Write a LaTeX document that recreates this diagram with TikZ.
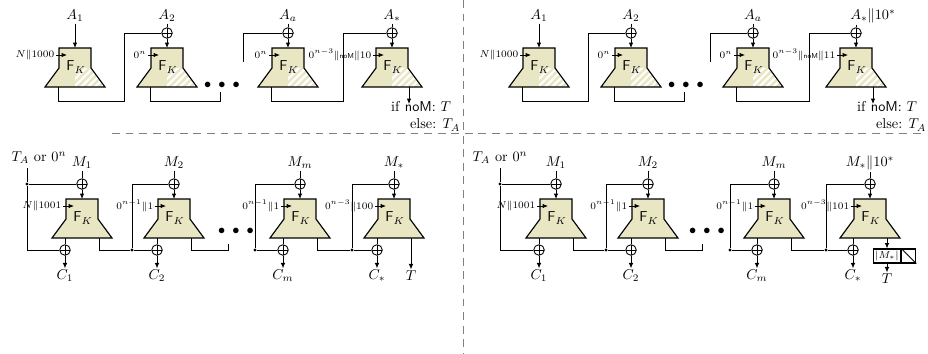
\documentclass[tikz,border=0pt]{standalone}
\usepackage{amsmath}
\usetikzlibrary{arrows.meta, positioning}

\definecolor{fkyellow}{RGB}{233,230,196}

\tikzset{
  fkfill/.style={fill=fkyellow},
  fkedge/.style={draw=black, line width=0.8pt},
  hatchline/.style={white, line width=1.5pt}
}

% white stripes in the lower right quarter of a block
\newcommand{\fkhatch}{%
  \begin{scope}
    \clip (0,20) -- (16,20) -- (30,39) -- (0,39) -- cycle;
    \foreach \h in {-24,-17,...,32} \draw[hatchline] (\h,41) -- ++(24,-24);
  \end{scope}}

% block F_K: [extra] {name} {x of centre} {y of top}
\newcommand{\fkbox}[4][]{%
  \begin{scope}[shift={(#3,#4)}]
    \fill[fkfill] (-16,0) -- (16,0) -- (16,20) -- (30,39) -- (-30,39) -- (-16,20) -- cycle;
    #1
    \draw[fkedge] (-16,0) -- (16,0) -- (16,20) -- (30,39) -- (-30,39) -- (-16,20) -- cycle;
    \node[inner sep=0pt] (#2) at (1,19) {$\mathsf{F}_K$};
    \coordinate (#2-n) at (0,0);
    \coordinate (#2-w) at (-8,7);
    \coordinate (#2-sl) at (-17,39);
    \coordinate (#2-sr) at (17,39);
  \end{scope}}

\begin{document}
\begin{tikzpicture}[x=0.7pt, y=-0.7pt,
  wire/.style={line width=0.6pt},
  arrow/.style={wire, -{Latex[length=3.8pt, width=3.2pt]}},
  xor/.style={circle, draw, line width=0.6pt, minimum size=7.4pt, inner sep=0pt,
    path picture={\draw[line width=0.6pt] (path picture bounding box.north) -- (path picture bounding box.south)
      (path picture bounding box.west) -- (path picture bounding box.east);}},
  io/.style={inner sep=1pt},
  tag/.style={font=\scriptsize, inner sep=1pt, anchor=east},
  dot/.style={circle, fill, inner sep=0pt, minimum size=2.2pt},
  dots/.style={inner sep=0pt},
  sep/.style={gray, line width=0.6pt, dash pattern=on 5.5pt off 4pt}
]
\useasboundingbox (0,0) rectangle (928,353);
\clip (0,0) rectangle (928,353);

% top left
\node[io] (tl-a1) at (75,16) {$A_1$};
\fkbox[\fkhatch]{tl-f1}{75}{48}
\node[tag] (tl-n1) at (56,55) {$N\|1000$};
\draw[arrow] (tl-a1) -- (tl-f1-n);
\draw[arrow] (tl-n1) -- (tl-f1-w);
\coordinate (tl-k1) at (124,101);

\node[xor] (tl-x2) at (167,33) {};
\node[io] (tl-a2) at (167,16) {$A_2$};
\fkbox[\fkhatch]{tl-f2}{167}{48}
\node[tag] (tl-n2) at (148,55) {$0^n$};
\draw[wire] (tl-f1-sl) |- (tl-k1) |- (tl-x2);
\draw[wire] (tl-a2) -- (tl-x2);
\draw[arrow] (tl-x2) -- (tl-f2-n);
\draw[arrow] (tl-n2) -- (tl-f2-w);
\coordinate (tl-k2) at (220,101);
\coordinate (tl-e2) at (220,92);
\draw[wire] (tl-f2-sl) |- (tl-k2) -- (tl-e2);
\node[dots] (tl-dots) at (222,85) {$\bullet\;\bullet\;\bullet$};

\coordinate (tl-e3) at (243,62);
\node[xor] (tl-x3) at (288,33) {};
\node[io] (tl-a3) at (288,16) {$A_a$};
\fkbox[\fkhatch]{tl-f3}{288}{48}
\node[tag] (tl-n3) at (269,55) {$0^n$};
\draw[wire] (tl-e3) |- (tl-x3);
\draw[wire] (tl-a3) -- (tl-x3);
\draw[arrow] (tl-x3) -- (tl-f3-n);
\draw[arrow] (tl-n3) -- (tl-f3-w);
\coordinate (tl-k3) at (343,101);

\node[xor] (tl-x4) at (392,33) {};
\node[io] (tl-a4) at (392,16) {$A_*$};
\fkbox[\fkhatch]{tl-f4}{392}{48}
\node[tag] (tl-n4) at (373,55) {$0^{n-3}\|\textsf{\tiny noM}\|10$};
\draw[wire] (tl-f3-sl) |- (tl-k3) |- (tl-x4);
\draw[wire] (tl-a4) -- (tl-x4);
\draw[arrow] (tl-x4) -- (tl-f4-n);
\draw[arrow] (tl-n4) -- (tl-f4-w);
\coordinate (tl-o4) at (409,104);
\draw[arrow] (tl-f4-sr) -- (tl-o4);
\node[io, anchor=north east, align=right] (tl-out) at (462,100) {if \textsf{noM}: $T\phantom{{}_A}$\\else: $T_A$};

% top right
\node[io] (tr-a1) at (539,16) {$A_1$};
\fkbox[\fkhatch]{tr-f1}{539}{48}
\node[tag] (tr-n1) at (520,55) {$N\|1000$};
\draw[arrow] (tr-a1) -- (tr-f1-n);
\draw[arrow] (tr-n1) -- (tr-f1-w);
\coordinate (tr-k1) at (588,101);

\node[xor] (tr-x2) at (631,33) {};
\node[io] (tr-a2) at (631,16) {$A_2$};
\fkbox[\fkhatch]{tr-f2}{631}{48}
\node[tag] (tr-n2) at (612,55) {$0^n$};
\draw[wire] (tr-f1-sl) |- (tr-k1) |- (tr-x2);
\draw[wire] (tr-a2) -- (tr-x2);
\draw[arrow] (tr-x2) -- (tr-f2-n);
\draw[arrow] (tr-n2) -- (tr-f2-w);
\coordinate (tr-k2) at (684,101);
\coordinate (tr-e2) at (684,92);
\draw[wire] (tr-f2-sl) |- (tr-k2) -- (tr-e2);
\node[dots] (tr-dots) at (686,85) {$\bullet\;\bullet\;\bullet$};

\coordinate (tr-e3) at (710,62);
\node[xor] (tr-x3) at (753,33) {};
\node[io] (tr-a3) at (753,16) {$A_a$};
\fkbox[\fkhatch]{tr-f3}{753}{48}
\node[tag] (tr-n3) at (734,55) {$0^n$};
\draw[wire] (tr-e3) |- (tr-x3);
\draw[wire] (tr-a3) -- (tr-x3);
\draw[arrow] (tr-x3) -- (tr-f3-n);
\draw[arrow] (tr-n3) -- (tr-f3-w);
\coordinate (tr-k3) at (809,101);

\node[xor] (tr-x4) at (856,33) {};
\node[io] (tr-a4) at (873,16) {$A_*\|10^*$};
\fkbox[\fkhatch]{tr-f4}{856}{48}
\node[tag] (tr-n4) at (837,55) {$0^{n-3}\|\textsf{\tiny noM}\|11$};
\draw[wire] (tr-f3-sl) |- (tr-k3) |- (tr-x4);
\draw[wire] (tr-x4 |- tr-a4.south) -- (tr-x4);
\draw[arrow] (tr-x4) -- (tr-f4-n);
\draw[arrow] (tr-n4) -- (tr-f4-w);
\coordinate (tr-o4) at (873,104);
\draw[arrow] (tr-f4-sr) -- (tr-o4);
\node[io, anchor=north east, align=right] (tr-out) at (928,100) {if \textsf{noM}: $T\phantom{{}_A}$\\else: $T_A$};

% bottom left
\node[io] (bl-t) at (39,158) {$T_A$ or $0^n$};
\coordinate (bl-v) at (27,168);
\node[dot] (bl-d1) at (27,184) {};
\node[xor] (bl-x1) at (82,184) {};
\node[io] (bl-m1) at (82,163) {$M_1$};
\fkbox{bl-f1}{82}{199}
\node[tag] (bl-n1) at (63,206) {$N\|1001$};
\node[xor] (bl-y1) at (65,250) {};
\node[io] (bl-c1) at (65,276) {$C_1$};
\draw[wire] (bl-v) -- (bl-d1) -- (bl-x1);
\draw[wire] (bl-d1) |- (bl-y1);
\draw[wire] (bl-m1) -- (bl-x1);
\draw[arrow] (bl-x1) -- (bl-f1-n);
\draw[arrow] (bl-n1) -- (bl-f1-w);
\draw[wire] (bl-f1-sl) -- (bl-y1);
\draw[arrow] (bl-y1) -- (bl-c1);

\node[dot] (bl-j1) at (132,250) {};
\node[xor] (bl-x2) at (174,184) {};
\node[io] (bl-m2) at (174,163) {$M_2$};
\fkbox{bl-f2}{174}{199}
\node[tag] (bl-n2) at (155,206) {$0^{n-1}\|1$};
\node[xor] (bl-y2) at (157,250) {};
\node[io] (bl-c2) at (157,276) {$C_2$};
\draw[wire] (bl-f1-sr) |- (bl-j1) -- (bl-y2);
\draw[wire] (bl-j1) |- (bl-x2);
\draw[wire] (bl-m2) -- (bl-x2);
\draw[arrow] (bl-x2) -- (bl-f2-n);
\draw[arrow] (bl-n2) -- (bl-f2-w);
\draw[wire] (bl-f2-sl) -- (bl-y2);
\draw[arrow] (bl-y2) -- (bl-c2);
\coordinate (bl-k2) at (228,250);
\coordinate (bl-e2) at (228,244);
\draw[wire] (bl-f2-sr) |- (bl-k2) -- (bl-e2);
\node[dots] (bl-dots) at (236,231) {$\bullet\;\bullet\;\bullet$};

\node[dot] (bl-j2) at (255,250) {};
\node[xor] (bl-x3) at (300,184) {};
\node[io] (bl-m3) at (300,163) {$M_m$};
\fkbox{bl-f3}{300}{199}
\node[tag] (bl-n3) at (281,206) {$0^{n-1}\|1$};
\node[xor] (bl-y3) at (283,250) {};
\node[io] (bl-c3) at (283,276) {$C_m$};
\draw[wire] (bl-j2) -- (bl-y3);
\draw[wire] (bl-j2) |- (bl-x3);
\draw[wire] (bl-m3) -- (bl-x3);
\draw[arrow] (bl-x3) -- (bl-f3-n);
\draw[arrow] (bl-n3) -- (bl-f3-w);
\draw[wire] (bl-f3-sl) -- (bl-y3);
\draw[arrow] (bl-y3) -- (bl-c3);

\node[dot] (bl-j3) at (352,250) {};
\node[xor] (bl-x4) at (394,184) {};
\node[io] (bl-m4) at (394,163) {$M_*$};
\fkbox{bl-f4}{394}{199}
\node[tag] (bl-n4) at (375,206) {$0^{n-3}\|100$};
\node[xor] (bl-y4) at (377,250) {};
\node[io] (bl-c4) at (377,276) {$C_*$};
\node[io] (bl-tag) at (411,276) {$T$};
\draw[wire] (bl-f3-sr) |- (bl-j3) -- (bl-y4);
\draw[wire] (bl-j3) |- (bl-x4);
\draw[wire] (bl-m4) -- (bl-x4);
\draw[arrow] (bl-x4) -- (bl-f4-n);
\draw[arrow] (bl-n4) -- (bl-f4-w);
\draw[wire] (bl-f4-sl) -- (bl-y4);
\draw[arrow] (bl-y4) -- (bl-c4);
\draw[arrow] (bl-f4-sr) -- (bl-tag);

% bottom right
\node[io] (br-t) at (500,158) {$T_A$ or $0^n$};
\coordinate (br-v) at (500,168);
\node[dot] (br-d1) at (500,184) {};
\node[xor] (br-x1) at (556,184) {};
\node[io] (br-m1) at (556,163) {$M_1$};
\fkbox{br-f1}{556}{199}
\node[tag] (br-n1) at (537,206) {$N\|1001$};
\node[xor] (br-y1) at (539,250) {};
\node[io] (br-c1) at (539,276) {$C_1$};
\draw[wire] (br-v) -- (br-d1) -- (br-x1);
\draw[wire] (br-d1) |- (br-y1);
\draw[wire] (br-m1) -- (br-x1);
\draw[arrow] (br-x1) -- (br-f1-n);
\draw[arrow] (br-n1) -- (br-f1-w);
\draw[wire] (br-f1-sl) -- (br-y1);
\draw[arrow] (br-y1) -- (br-c1);

\node[dot] (br-j1) at (606,250) {};
\node[xor] (br-x2) at (648,184) {};
\node[io] (br-m2) at (648,163) {$M_2$};
\fkbox{br-f2}{648}{199}
\node[tag] (br-n2) at (629,206) {$0^{n-1}\|1$};
\node[xor] (br-y2) at (631,250) {};
\node[io] (br-c2) at (631,276) {$C_2$};
\draw[wire] (br-f1-sr) |- (br-j1) -- (br-y2);
\draw[wire] (br-j1) |- (br-x2);
\draw[wire] (br-m2) -- (br-x2);
\draw[arrow] (br-x2) -- (br-f2-n);
\draw[arrow] (br-n2) -- (br-f2-w);
\draw[wire] (br-f2-sl) -- (br-y2);
\draw[arrow] (br-y2) -- (br-c2);
\coordinate (br-k2) at (702,250);
\coordinate (br-e2) at (702,244);
\draw[wire] (br-f2-sr) |- (br-k2) -- (br-e2);
\node[dots] (br-dots) at (707,231) {$\bullet\;\bullet\;\bullet$};

\node[dot] (br-j2) at (730,250) {};
\node[xor] (br-x3) at (774,184) {};
\node[io] (br-m3) at (774,163) {$M_m$};
\fkbox{br-f3}{774}{199}
\node[tag] (br-n3) at (755,206) {$0^{n-1}\|1$};
\node[xor] (br-y3) at (757,250) {};
\node[io] (br-c3) at (757,276) {$C_m$};
\draw[wire] (br-j2) -- (br-y3);
\draw[wire] (br-j2) |- (br-x3);
\draw[wire] (br-m3) -- (br-x3);
\draw[arrow] (br-x3) -- (br-f3-n);
\draw[arrow] (br-n3) -- (br-f3-w);
\draw[wire] (br-f3-sl) -- (br-y3);
\draw[arrow] (br-y3) -- (br-c3);

\node[dot] (br-j3) at (826,250) {};
\node[xor] (br-x4) at (870,184) {};
\node[io] (br-m4) at (870,163) {$M_*\|10^*$};
\fkbox{br-f4}{870}{199}
\node[tag] (br-n4) at (851,206) {$0^{n-3}\|101$};
\node[xor] (br-y4) at (853,250) {};
\node[io] (br-c4) at (853,276) {$C_*$};
\node[draw, line width=0.8pt, font=\scriptsize, minimum width=19pt, minimum height=9.8pt, inner sep=0pt] (br-trunc) at (887,256) {$|M_*|$};
\node[draw, line width=0.8pt, minimum size=9.8pt, inner sep=0pt, anchor=west] (br-cut) at (br-trunc.east) {};
\node[io] (br-tag) at (887,279) {$T$};
\draw[wire] (br-f3-sr) |- (br-j3) -- (br-y4);
\draw[wire] (br-j3) |- (br-x4);
\draw[wire] (br-m4) -- (br-x4);
\draw[arrow] (br-x4) -- (br-f4-n);
\draw[arrow] (br-n4) -- (br-f4-w);
\draw[wire] (br-f4-sl) -- (br-y4);
\draw[arrow] (br-y4) -- (br-c4);
\draw[arrow] (br-f4-sr) -- (br-trunc);
\draw[wire] (br-cut.north west) -- (br-cut.south east);
\draw[arrow] (br-trunc) -- (br-tag);

% separators
\draw[sep] (463,0) -- (463,353);
\draw[sep] (112,133) -- (924,133);
\end{tikzpicture}
\end{document}
